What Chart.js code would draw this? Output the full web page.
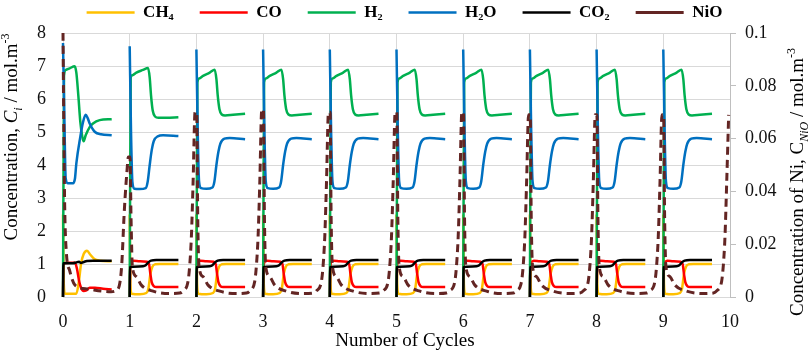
<!DOCTYPE html>
<html>
<head>
<meta charset="utf-8">
<script src="https://cdn.jsdelivr.net/npm/chart.js@4.4.1/dist/chart.umd.min.js"></script>
<style>
  html, body { margin: 0; padding: 0; background: #fff; }
</style>
</head>
<body>
<canvas id="chart" width="809" height="358"></canvas>
<script>
// cycles on the x axis, every gas curve repeats once per cycle
const cycles = [0, 1, 2, 3, 4, 5, 6, 7, 8, 9];
const cycleEnd = 0.74;   // gas curves stop here inside each cycle

// [offset inside cycle, value] - first cycle (0 -> 1)
const ch4First = [[0, 2.5], [0.01, 0.5], [0.03, 0.1], [0.2, 0.1], [0.24, 0.5], [0.27, 1.0], [0.31, 1.3], [0.36, 1.4], [0.41, 1.28], [0.47, 1.15], [0.55, 1.1], [0.73, 1.08]];
const coFirst = [[0, 0], [0.008, 0.98], [0.04, 1.03], [0.18, 1.04], [0.21, 0.85], [0.24, 0.5], [0.27, 0.28], [0.31, 0.18], [0.35, 0.2], [0.4, 0.28], [0.48, 0.28], [0.6, 0.25], [0.73, 0.23]];
const h2First = [[0, 0], [0.015, 6.7], [0.04, 6.88], [0.1, 6.93], [0.175, 6.99], [0.2, 6.8], [0.23, 6.1], [0.26, 5.3], [0.29, 4.85], [0.31, 4.72], [0.34, 4.9], [0.4, 5.15], [0.45, 5.26], [0.55, 5.36], [0.73, 5.39]];
const h2oFirst = [[0, 7.7], [0.02, 5.5], [0.04, 3.6], [0.07, 3.45], [0.15, 3.45], [0.18, 3.6], [0.2, 4.05], [0.26, 4.86], [0.3, 5.3], [0.34, 5.52], [0.37, 5.42], [0.4, 5.26], [0.48, 5.0], [0.57, 4.93], [0.73, 4.9]];
const co2First = [[0, 0], [0.005, 1.02], [0.15, 1.02], [0.2, 1.05], [0.24, 1.07], [0.27, 1.03], [0.31, 1.06], [0.36, 1.09], [0.45, 1.1], [0.73, 1.1]];

// second cycle (1 -> 2), H2 / H2O levels a bit different
const h2Cycle1 = [[0, 0], [0.015, 6.65], [0.04, 6.72], [0.1, 6.8], [0.2, 6.88], [0.275, 6.94], [0.3, 6.65], [0.32, 6.1], [0.345, 5.65], [0.38, 5.47], [0.43, 5.43], [0.55, 5.43], [0.73, 5.45]];
const h2oCycle1 = [[0, 7.6], [0.02, 5], [0.04, 3.5], [0.07, 3.28], [0.15, 3.27], [0.24, 3.3], [0.27, 3.5], [0.3, 4.0], [0.33, 4.45], [0.36, 4.72], [0.42, 4.87], [0.5, 4.9], [0.73, 4.88]];

// steady cycles
const ch4Steady = [[0, 2.5], [0.01, 0.4], [0.03, 0.1], [0.15, 0.08], [0.25, 0.12], [0.28, 0.25], [0.31, 0.7], [0.34, 0.92], [0.38, 0.99], [0.45, 1.0], [0.73, 1.0]];
const coSteady = [[0, 0], [0.008, 0.95], [0.03, 1.07], [0.06, 1.1], [0.15, 1.08], [0.26, 1.07], [0.29, 1.0], [0.31, 0.7], [0.33, 0.45], [0.36, 0.33], [0.4, 0.3], [0.73, 0.3]];
const h2Steady = [[0, 0], [0.015, 6.5], [0.04, 6.62], [0.1, 6.7], [0.2, 6.8], [0.275, 6.89], [0.3, 6.6], [0.32, 6.1], [0.345, 5.7], [0.38, 5.53], [0.43, 5.5], [0.55, 5.52], [0.73, 5.55]];
const h2oSteady = [[0, 7.5], [0.02, 5], [0.04, 3.5], [0.07, 3.3], [0.15, 3.28], [0.24, 3.32], [0.27, 3.5], [0.3, 4.0], [0.33, 4.4], [0.36, 4.65], [0.42, 4.8], [0.5, 4.82], [0.73, 4.78]];
const co2Steady = [[0, 0], [0.005, 0.9], [0.05, 0.92], [0.2, 0.93], [0.24, 0.96], [0.28, 1.05], [0.32, 1.1], [0.4, 1.12], [0.73, 1.12]];

// NiO (right axis): peak at each cycle boundary, valley in between
const nioPeaks = [0.1, 0.053, 0.07, 0.071, 0.07, 0.07, 0.07, 0.069, 0.069, 0.069, 0.069];
const nioFirst = [[0.01, 0.07], [0.025, 0.035], [0.05, 0.017], [0.1, 0.01], [0.18, 0.0045], [0.375, 0.003], [0.6, 0.0022], [0.72, 0.002], [0.8, 0.0025], [0.85, 0.005], [0.88, 0.012], [0.92, 0.033], [0.96, 0.048]];
const nioSteady = [[0.02, 0.03], [0.04, 0.0115], [0.1, 0.0077], [0.175, 0.0045], [0.35, 0.0022], [0.6, 0.0013], [0.75, 0.0015], [0.8, 0.0023], [0.875, 0.006], [0.9, 0.012], [0.925, 0.023], [0.95, 0.043]];

const xTicks = [0, 10, 1];
const yTicks = [0, 8, 1];
const y1Ticks = [0, 0.1, 0.02];

const serif = "'Liberation Serif', 'Times New Roman', serif";
Chart.defaults.font.family = serif;

// 1) build series
function buildGas(first, steady, second) {
  const pts = [];
  cycles.forEach(c => {
    let shape = steady;
    if (c === 0) shape = first;
    else if (c === 1 && second) shape = second;
    shape.forEach(([dx, v]) => pts.push({ x: c + dx, y: v }));
    pts.push({ x: c + cycleEnd, y: null });
  });
  return pts;
}

function buildNiO() {
  const pts = [{ x: 0, y: nioPeaks[0] }];
  cycles.forEach(c => {
    if (c > 0) {
      pts.push({ x: c - 0.02, y: nioPeaks[c] });
      pts.push({ x: c + 0.005, y: nioPeaks[c] });
    }
    const shape = c === 0 ? nioFirst : nioSteady;
    shape.forEach(([dx, v]) => pts.push({ x: c + dx, y: v }));
  });
  pts.push({ x: 9.98, y: nioPeaks[10] });
  return pts;
}

// 2) axis titles with sub/superscripts
const leftTitle = [
  { text: 'Concentration, ', font: `19px ${serif}` },
  { text: 'C', font: `italic 19px ${serif}` },
  { text: 'i', font: `italic 12px ${serif}`, dy: 5 },
  { text: ' / mol.m', font: `19px ${serif}` },
  { text: '-3', font: `12px ${serif}`, dy: -8 }
];
const rightTitle = [
  { text: 'Concentration of Ni, C', font: `19px ${serif}` },
  { text: 'NiO', font: `italic 12px ${serif}`, dy: 5 },
  { text: ' / mol.m', font: `19px ${serif}` },
  { text: '-3', font: `12px ${serif}`, dy: -8 }
];
const bottomTitle = [{ text: 'Number of Cycles', font: `19px ${serif}` }];

function drawRich(ctx, parts, cx, cy, rotate) {
  ctx.save();
  ctx.translate(cx, cy);
  if (rotate) ctx.rotate(-Math.PI / 2);
  ctx.fillStyle = '#000';
  ctx.textAlign = 'left';
  ctx.textBaseline = 'alphabetic';
  let total = 0;
  parts.forEach(p => { ctx.font = p.font; total += ctx.measureText(p.text).width; });
  let x = -total / 2;
  parts.forEach(p => {
    ctx.font = p.font;
    ctx.fillText(p.text, x, 6 + (p.dy || 0));
    x += ctx.measureText(p.text).width;
  });
  ctx.restore();
}

const titlesPlugin = {
  id: 'titles',
  afterInit(chart) {
    // legend: fixed height, items drawn higher
    const legend = chart.legend;
    const fit = legend.fit;
    legend.fit = function () { fit.call(this); this.height = 33; };
    const draw = legend.draw;
    legend.draw = function () {
      const t = this.top;
      this.top = t - 22;
      draw.call(this);
      this.top = t;
    };
  },
  afterDraw(chart) {
    const ctx = chart.ctx;
    drawRich(ctx, leftTitle, 11, 137, true);
    drawRich(ctx, rightTitle, 797, 182, true);
    drawRich(ctx, bottomTitle, 405, 340, false);
  }
};

const bgPlugin = {
  id: 'bg',
  beforeDraw(chart) {
    const ctx = chart.ctx;
    ctx.save();
    ctx.fillStyle = '#fff';
    ctx.fillRect(0, 0, chart.width, chart.height);
    ctx.restore();
  }
};

function gas(label, first, steady, second, color, order) {
  return {
    label: label,
    data: buildGas(first, steady, second),
    borderColor: color,
    backgroundColor: color,
    borderWidth: 2.5,
    pointRadius: 0,
    fill: false,
    cubicInterpolationMode: 'monotone',
    spanGaps: false,
    clip: false,
    order: order,
    yAxisID: 'y'
  };
}

// 3) chart
const chart = new Chart(document.getElementById('chart'), {
  type: 'line',
  data: {
    datasets: [
      gas('CH₄', ch4First, ch4Steady, null, '#ffc000', 5),
      gas('CO', coFirst, coSteady, null, '#ff0000', 4),
      gas('H₂', h2First, h2Steady, h2Cycle1, '#00b050', 3),
      gas('H₂O', h2oFirst, h2oSteady, h2oCycle1, '#0070c0', 2),
      gas('CO₂', co2First, co2Steady, null, '#000000', 1),
      {
        label: 'NiO',
        data: buildNiO(),
        borderColor: '#632523',
        backgroundColor: '#632523',
        borderWidth: 3,
        borderDash: [8, 5],
        pointRadius: 0,
        fill: false,
        cubicInterpolationMode: 'monotone',
        clip: false,
        order: 0,
        yAxisID: 'y1'
      }
    ]
  },
  options: {
    responsive: false,
    animation: false,
    devicePixelRatio: 1,
    layout: { padding: 0 },
    plugins: {
      tooltip: { enabled: false },
      legend: {
        position: 'top',
        labels: {
          usePointStyle: true,
          pointStyle: 'line',
          pointStyleWidth: 48,
          padding: 26,
          color: '#000',
          font: { family: serif, size: 17, weight: 'bold' },
          sort: (a, b) => a.datasetIndex - b.datasetIndex
        }
      }
    },
    scales: {
      x: {
        type: 'linear',
        min: xTicks[0],
        max: xTicks[1],
        afterFit: s => { s.height = 61; },
        ticks: { stepSize: xTicks[2], padding: 14, color: '#111', font: { family: serif, size: 18 } },
        grid: { color: '#d9d9d9', drawTicks: false },
        border: { color: '#d9d9d9' }
      },
      y: {
        position: 'left',
        min: yTicks[0],
        max: yTicks[1],
        afterFit: s => { s.width = 63; },
        ticks: { stepSize: yTicks[2], padding: 17, color: '#111', font: { family: serif, size: 18 } },
        grid: { color: '#d9d9d9', drawTicks: false },
        border: { color: '#d9d9d9' }
      },
      y1: {
        position: 'right',
        min: y1Ticks[0],
        max: y1Ticks[1],
        afterFit: s => { s.width = 79; },
        ticks: {
          stepSize: y1Ticks[2],
          padding: 9,
          color: '#111',
          font: { family: serif, size: 18 },
          callback: v => String(+v.toFixed(2))
        },
        grid: { drawOnChartArea: false, color: '#bfbfbf', tickLength: 6 },
        border: { color: '#bfbfbf' }
      }
    }
  },
  plugins: [bgPlugin, titlesPlugin]
});
</script>
</body>
</html>
